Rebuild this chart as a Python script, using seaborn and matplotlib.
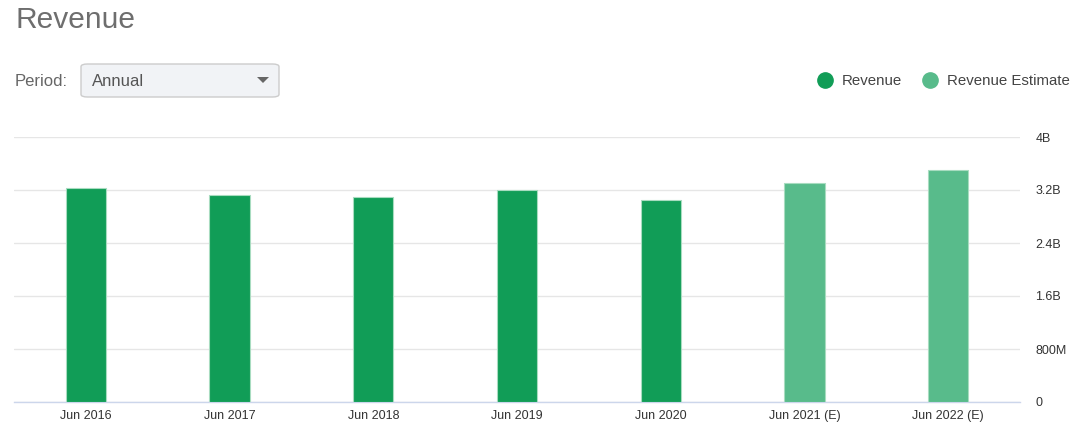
import matplotlib
matplotlib.use("Agg")
import matplotlib.pyplot as plt
from matplotlib.patches import FancyBboxPatch, Polygon
from matplotlib.lines import Line2D
import seaborn as sns
import pandas as pd

periods = ["Jun 2016", "Jun 2017", "Jun 2018", "Jun 2019", "Jun 2020", "Jun 2021 (E)", "Jun 2022 (E)"]
revenue_b = [3.23, 3.12, 3.09, 3.20, 3.05, 3.31, 3.50]
series = ["Revenue", "Revenue", "Revenue", "Revenue", "Revenue", "Revenue Estimate", "Revenue Estimate"]
ytick_values = [0, 0.8, 1.6, 2.4, 3.2, 4.0]
ytick_labels = ["0", "800M", "1.6B", "2.4B", "3.2B", "4B"]

colors = {"Revenue": "#119D57", "Revenue Estimate": "#58BB8B"}

df = pd.DataFrame({"period": periods, "value": revenue_b, "series": series})

sns.set_theme(style="white")
plt.rcParams["font.family"] = ["Liberation Sans", "DejaVu Sans"]

fig = plt.figure(figsize=(10.81, 4.38), dpi=100)
W, H = 1081, 438
ax = fig.add_axes([14 / W, 36 / H, (1020 - 14) / W, (402 - 137) / H])

sns.barplot(data=df, x="period", y="value", hue="series", palette=colors,
            dodge=False, width=0.28, ax=ax, legend=False, saturation=1,
            edgecolor="#a8dcc0", linewidth=0.8, zorder=3)

ax.set_ylim(0, 4.0)
ax.set_xlim(-0.5, len(periods) - 0.5)
ax.set_yticks(ytick_values)
ax.set_yticklabels(ytick_labels)
ax.yaxis.tick_right()
ax.set_xlabel("")
ax.set_ylabel("")
ax.grid(axis="y", color="#E6E6E6", linewidth=1, zorder=0)
ax.grid(axis="x", visible=False)
for s in ["top", "left", "right"]:
    ax.spines[s].set_visible(False)
ax.spines["bottom"].set_color("#CCD6EB")
ax.spines["bottom"].set_linewidth(1)
ax.tick_params(axis="both", length=0, labelsize=9, labelcolor="#333333")
ax.tick_params(axis="y", pad=11)
ax.tick_params(axis="x", pad=6)
for lbl in ax.get_yticklabels():
    lbl.set_horizontalalignment("left")

# Header texts
fig.text(15 / W, 1 - 20 / H, "Revenue", fontsize=21.5, color="#6E6E6E", va="center", ha="left")
fig.text(15 / W, 1 - 81 / H, "Period:", fontsize=12, color="#666666", va="center", ha="left")
box = FancyBboxPatch((81 / W, 1 - 97 / H), (279 - 81) / W, (97 - 64) / H,
                     boxstyle="round,pad=0,rounding_size=0.006",
                     transform=fig.transFigure, facecolor="#F1F3F6",
                     edgecolor="#CCCCCC", linewidth=1)
fig.add_artist(box)
fig.text(92 / W, 1 - 81 / H, "Annual", fontsize=12, color="#555555", va="center", ha="left")
tri = Polygon([[257 / W, 1 - 77 / H], [269 / W, 1 - 77 / H], [263 / W, 1 - 83 / H]],
              closed=True, transform=fig.transFigure, facecolor="#666666", edgecolor="none")
fig.add_artist(tri)

# Legend
for cx, tx, name in [(825, 842, "Revenue"), (930, 947, "Revenue Estimate")]:
    fig.add_artist(Line2D([cx / W], [1 - 80 / H], marker="o", markersize=11,
                          color=colors[name], linestyle="none", transform=fig.transFigure))
    fig.text(tx / W, 1 - 81 / H, name, fontsize=10.8, color="#444444", va="center", ha="left")

fig.savefig("out.png", dpi=100)
